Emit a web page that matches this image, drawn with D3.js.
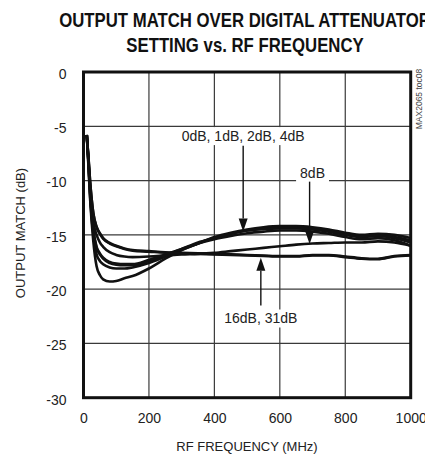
<!DOCTYPE html>
<html><head><meta charset="utf-8">
<script src="https://cdn.jsdelivr.net/npm/d3@7"></script>
<style>
html,body{margin:0;padding:0;background:#fff;}
svg{display:block;}
text{font-family:"Liberation Sans",Arial,sans-serif;fill:#222;}
</style></head>
<body>
<svg id="c" width="425" height="455"></svg>
<script>
const freq = [10, 15, 20, 30, 40, 50, 60, 80, 100, 125, 150, 200, 250, 300, 350, 400, 450, 500, 550, 600, 650, 700, 750, 800, 850, 900, 950, 1000];
const att0dB  = [-5.8, -8.6, -11.6, -15.6, -17.9, -18.7, -19.1, -19.3, -19.25, -19.0, -18.8, -18.1, -17.2, -16.4, -15.8, -15.2, -14.8, -14.5, -14.3, -14.2, -14.2, -14.3, -14.5, -14.8, -15.0, -14.9, -15.0, -15.3];
const att1dB  = [-5.8, -8.4, -11.3, -15.0, -16.8, -17.4, -17.7, -18.0, -18.1, -18.1, -18.0, -17.6, -17.0, -16.4, -15.8, -15.3, -14.9, -14.6, -14.4, -14.3, -14.3, -14.4, -14.6, -14.9, -15.1, -15.0, -15.2, -15.5];
const att2dB  = [-5.8, -8.2, -11.0, -14.6, -16.2, -16.8, -17.2, -17.6, -17.75, -17.8, -17.8, -17.4, -16.9, -16.3, -15.7, -15.3, -14.9, -14.6, -14.45, -14.4, -14.4, -14.5, -14.7, -15.0, -15.2, -15.1, -15.3, -15.7];
const att4dB  = [-5.8, -8.2, -10.9, -14.5, -16.1, -16.7, -17.1, -17.5, -17.65, -17.7, -17.7, -17.3, -16.8, -16.3, -15.8, -15.4, -15.1, -14.85, -14.7, -14.6, -14.6, -14.7, -14.9, -15.2, -15.4, -15.3, -15.5, -16.0];
const att8dB  = [-5.8, -8.0, -10.5, -13.8, -15.0, -15.7, -16.1, -16.6, -16.85, -17.0, -17.05, -17.0, -16.9, -16.8, -16.75, -16.65, -16.5, -16.35, -16.2, -16.05, -15.9, -15.8, -15.75, -15.7, -15.7, -15.6, -15.7, -16.0];
const att16dB = [-5.8, -7.8, -10.0, -13.0, -14.25, -14.85, -15.3, -15.75, -16.0, -16.25, -16.4, -16.5, -16.6, -16.65, -16.7, -16.75, -16.8, -16.85, -16.9, -16.95, -16.95, -16.85, -16.85, -17.0, -17.15, -17.2, -16.95, -16.85];
const att31dB = [-5.8, -7.8, -10.0, -13.0, -14.3, -14.9, -15.35, -15.8, -16.05, -16.3, -16.45, -16.55, -16.65, -16.7, -16.75, -16.8, -16.85, -16.9, -16.95, -17.0, -17.0, -16.9, -16.9, -17.05, -17.2, -17.25, -17.0, -16.9];
const seriesList = [att0dB, att1dB, att2dB, att4dB, att8dB, att16dB, att31dB];

const xTicks = [0, 200, 400, 600, 800, 1000];
const yTicks = [0, -5, -10, -15, -20, -25, -30];

const titleLines = ["OUTPUT MATCH OVER DIGITAL ATTENUATOR", "SETTING vs. RF FREQUENCY"];
const xTitle = "RF FREQUENCY (MHz)";
const yTitle = "OUTPUT MATCH (dB)";
const figId = "MAX2065 toc08";

// annotations: label, label position (f, dB), arrow x (f), arrow from dB, arrow tip dB
const annLabels = ["0dB, 1dB, 2dB, 4dB", "8dB", "16dB, 31dB"];
const annLabelF = [488, 700, 542];
const annLabelDB = [-5.9, -9.3, -22.7];
const annArrowF = [488, 691, 542];
const annArrowFrom = [-6.8, -10.1, -21.5];
const annArrowTip = [-14.7, -15.85, -17.1];

const svg = d3.select("#c");
const L = 83.5, T = 72, R = 410.7, B = 397.7;
const x = d3.scaleLinear().domain([0, 1000]).range([L, R]);
const y = d3.scaleLinear().domain([-30, 0]).range([B, T]);

// title
const tg = svg.append("g");
titleLines.forEach((t, i) => {
  tg.append("text")
    .attr("transform", `translate(245,${26.5 + i * 25.5}) scale(0.86,1)`)
    .attr("text-anchor", "middle")
    .style("font-weight", "bold").style("font-size", "19.5px").style("fill", "#111")
    .text(t);
});

// grid
const grid = svg.append("g");
grid.selectAll("line.v").data(xTicks.slice(1, -1)).join("line")
  .attr("x1", d => x(d)).attr("x2", d => x(d)).attr("y1", T).attr("y2", B)
  .attr("stroke", "#3a3a3a").attr("stroke-width", 1.2);
grid.selectAll("line.h").data(yTicks.slice(1, -1)).join("line")
  .attr("x1", L).attr("x2", R).attr("y1", d => y(d)).attr("y2", d => y(d))
  .attr("stroke", "#3a3a3a").attr("stroke-width", 1.2);

// curves
const line = d3.line().x((d, i) => x(freq[i])).y(d => y(d)).curve(d3.curveMonotoneX);
const cg = svg.append("g");
cg.selectAll("path").data(seriesList).join("path")
  .attr("d", d => line(d)).attr("fill", "none").attr("stroke", "#111")
  .attr("stroke-width", 2.6).attr("stroke-linejoin", "round");

// frame
svg.append("rect").attr("x", L).attr("y", T).attr("width", R - L).attr("height", B - T)
  .attr("fill", "none").attr("stroke", "#111").attr("stroke-width", 3);

// axes via d3 axis, with no domain/ticks lines
const xAxis = svg.append("g").attr("transform", `translate(0,${B})`)
  .call(d3.axisBottom(x).tickValues(xTicks).tickSize(0).tickPadding(15).tickFormat(d3.format("d")));
const yAxis = svg.append("g").attr("transform", `translate(${L},0)`)
  .call(d3.axisLeft(y).tickValues(yTicks).tickSize(0).tickPadding(17).tickFormat(d => d === 0 ? "0" : "-" + Math.abs(d)));
[xAxis, yAxis].forEach(a => {
  a.select(".domain").remove();
  a.selectAll("text").style("font-family", '"Liberation Sans",Arial,sans-serif').style("font-size", "14px").style("fill", "#222");
});
yAxis.selectAll("text").attr("dy", "0.45em");

// axis titles
svg.append("text").attr("x", 247).attr("y", 451).attr("text-anchor", "middle")
  .style("font-size", "13px").text(xTitle);
svg.append("text").attr("transform", "translate(25,233) rotate(-90)").attr("text-anchor", "middle")
  .style("font-size", "13px").text(yTitle);

// fig id
svg.append("text").attr("transform", "translate(421.5,99) rotate(-90)").attr("text-anchor", "middle")
  .style("font-size", "8.5px").style("fill", "#444").text(figId);

// annotations
const ag = svg.append("g");
annLabels.forEach((t, i) => {
  const tx = x(annLabelF[i]), ty = y(annLabelDB[i]);
  const txt = ag.append("text").attr("x", tx).attr("y", ty).attr("text-anchor", "middle")
    .attr("dy", "0.36em").style("font-size", "14px").text(t);
  const bb = txt.node().getBBox();
  ag.insert("rect", "text").attr("x", bb.x - 4).attr("y", bb.y - 1).attr("width", bb.width + 8).attr("height", bb.height + 2)
    .attr("fill", "#fff");
  const ax = x(annArrowF[i]), y0 = y(annArrowFrom[i]), y1 = y(annArrowTip[i]);
  const dir = y1 > y0 ? 1 : -1;
  const hl = 13, hw = 4.5;
  ag.append("line").attr("x1", ax).attr("x2", ax).attr("y1", y0).attr("y2", y1 - dir * hl)
    .attr("stroke", "#111").attr("stroke-width", 1.4);
  ag.append("path").attr("d", `M${ax},${y1} L${ax - hw},${y1 - dir * hl} L${ax + hw},${y1 - dir * hl} Z`).attr("fill", "#111");
});
</script>
</body></html>
